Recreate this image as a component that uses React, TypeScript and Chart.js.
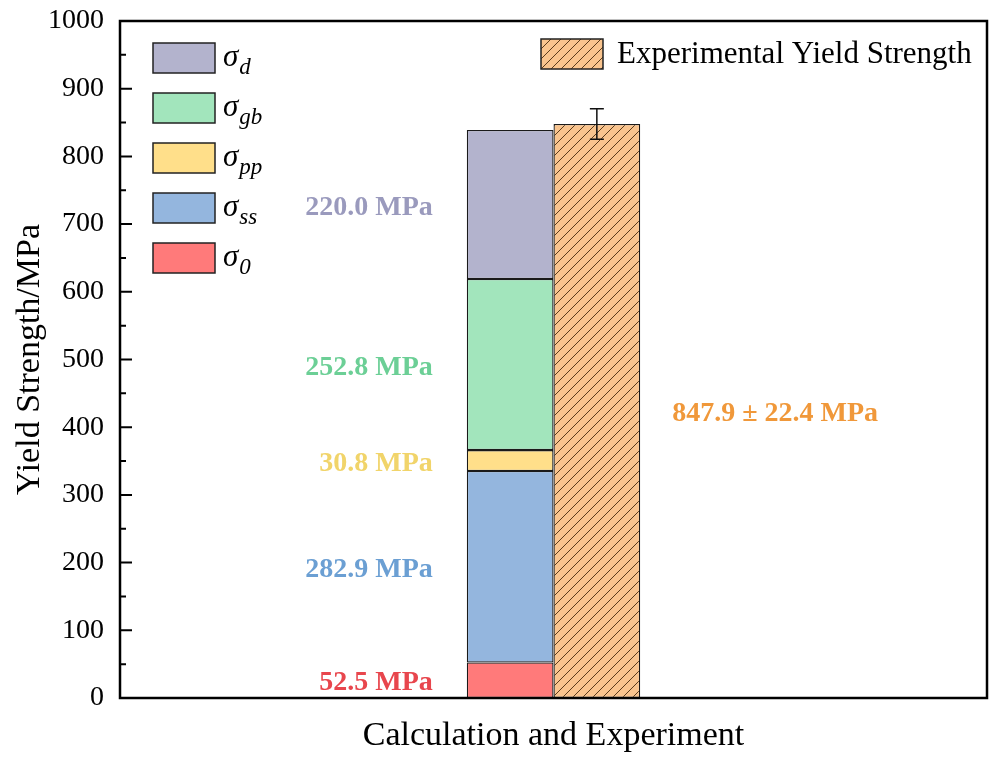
import React, { useEffect, useRef } from 'react';
import { Chart, registerables } from 'chart.js';

Chart.register(...registerables);

const categories = ['Calculation and Experiment'];
const componentSubscripts = ['0', 'ss', 'pp', 'gb', 'd'];
const componentValues = [52.5, 282.9, 30.8, 252.8, 220.0];
const experimentalLabel = 'Experimental Yield Strength';
const experimentalValues = [847.9];
const experimentalErrors = [22.4];
const yTickValues = [0, 100, 200, 300, 400, 500, 600, 700, 800, 900, 1000];
const yMinorTickValues = [50, 150, 250, 350, 450, 550, 650, 750, 850, 950];

const FILL_COLORS = ['#ff7a7a', '#94b6de', '#ffdf8a', '#a2e5bc', '#b3b3cd'];
const TEXT_COLORS = ['#e8464d', '#6b9fd3', '#f1d46a', '#6ccf96', '#9a9abd'];
const EXP_FILL = '#f9c48e';
const EXP_TEXT = '#f0983a';
const SERIF = '"Liberation Serif", "Times New Roman", serif';

function makeHatch(): CanvasPattern | string {
  const s = 10;
  const c = document.createElement('canvas');
  c.width = s;
  c.height = s;
  const g = c.getContext('2d');
  if (!g) return EXP_FILL;
  g.fillStyle = EXP_FILL;
  g.fillRect(0, 0, s, s);
  g.strokeStyle = '#5b3b1c';
  g.lineWidth = 1;
  g.beginPath();
  g.moveTo(0, s);
  g.lineTo(s, 0);
  g.moveTo(-1, 1);
  g.lineTo(1, -1);
  g.moveTo(s - 1, s + 1);
  g.lineTo(s + 1, s - 1);
  g.stroke();
  const p = g.createPattern(c, 'repeat');
  return p || EXP_FILL;
}

const decorPlugin = {
  id: 'decor',
  afterDatasetsDraw(chart: any) {
    const { ctx, chartArea, scales } = chart;
    const y = scales.y;
    ctx.save();

    // value labels for the stacked components
    let cum = 0;
    ctx.font = `bold 28px ${SERIF}`;
    ctx.textBaseline = 'middle';
    componentValues.forEach((v, i) => {
      const bar = chart.getDatasetMeta(i).data[0];
      const left = bar.x - bar.width / 2;
      ctx.fillStyle = TEXT_COLORS[i];
      ctx.textAlign = 'right';
      ctx.fillText(`${v.toFixed(1)} MPa`, left - 34, y.getPixelForValue(cum + v / 2) + 3);
      cum += v;
    });

    // experimental bar: error bar + label
    const expIndex = componentValues.length;
    const expBar = chart.getDatasetMeta(expIndex).data[0];
    const ev = experimentalValues[0];
    const ee = experimentalErrors[0];
    ctx.strokeStyle = '#111';
    ctx.lineWidth = 1.5;
    const yTop = y.getPixelForValue(ev + ee);
    const yBot = y.getPixelForValue(ev - ee);
    ctx.beginPath();
    ctx.moveTo(expBar.x, yTop);
    ctx.lineTo(expBar.x, yBot);
    ctx.moveTo(expBar.x - 7, yTop);
    ctx.lineTo(expBar.x + 7, yTop);
    ctx.moveTo(expBar.x - 7, yBot);
    ctx.lineTo(expBar.x + 7, yBot);
    ctx.stroke();

    ctx.fillStyle = EXP_TEXT;
    ctx.textAlign = 'left';
    ctx.fillText(`${ev.toFixed(1)} ± ${ee.toFixed(1)} MPa`, expBar.x + expBar.width / 2 + 32, y.getPixelForValue(ev / 2) + 3);

    // frame
    ctx.strokeStyle = '#000';
    ctx.lineWidth = 2.5;
    ctx.strokeRect(chartArea.left, chartArea.top, chartArea.right - chartArea.left, chartArea.bottom - chartArea.top);

    // inward ticks on the left axis
    ctx.lineWidth = 2;
    ctx.beginPath();
    yTickValues.forEach((t) => {
      const py = y.getPixelForValue(t);
      ctx.moveTo(chartArea.left, py);
      ctx.lineTo(chartArea.left + 12, py);
    });
    yMinorTickValues.forEach((t) => {
      const py = y.getPixelForValue(t);
      ctx.moveTo(chartArea.left, py);
      ctx.lineTo(chartArea.left + 6, py);
    });
    ctx.stroke();

    // left legend (components, top to bottom reversed)
    const lx = 153;
    const boxW = 62;
    const boxH = 30;
    const firstCenter = 58;
    const gap = 50;
    const order = componentValues.map((_, i) => i).reverse();
    order.forEach((idx, row) => {
      const cy = firstCenter + row * gap;
      ctx.fillStyle = FILL_COLORS[idx];
      ctx.fillRect(lx, cy - boxH / 2, boxW, boxH);
      ctx.strokeStyle = '#222';
      ctx.lineWidth = 1.5;
      ctx.strokeRect(lx, cy - boxH / 2, boxW, boxH);
      ctx.fillStyle = '#000';
      ctx.textAlign = 'left';
      ctx.textBaseline = 'alphabetic';
      ctx.font = `italic 31px ${SERIF}`;
      const sx = lx + boxW + 8;
      ctx.fillText('σ', sx, cy + 8);
      const w = ctx.measureText('σ').width;
      ctx.font = `italic 23px ${SERIF}`;
      ctx.fillText(componentSubscripts[idx], sx + w + 1, cy + 16);
    });

    // right legend (experimental)
    const rx = 541;
    const rcy = 54;
    ctx.fillStyle = chart.data.datasets[expIndex].backgroundColor;
    ctx.fillRect(rx, rcy - boxH / 2, boxW, boxH);
    ctx.strokeStyle = '#222';
    ctx.lineWidth = 1.5;
    ctx.strokeRect(rx, rcy - boxH / 2, boxW, boxH);
    ctx.fillStyle = '#000';
    ctx.font = `31px ${SERIF}`;
    ctx.textBaseline = 'middle';
    ctx.textAlign = 'left';
    ctx.fillText(experimentalLabel, rx + boxW + 14, rcy + 1);

    ctx.restore();
  },
};

export default function App() {
  const ref = useRef<HTMLCanvasElement | null>(null);

  useEffect(() => {
    document.body.style.margin = '0';
    const canvas = ref.current;
    if (!canvas) return;
    const hatch = makeHatch();

    const datasets: any[] = componentValues.map((v, i) => ({
      label: `σ${componentSubscripts[i]}`,
      data: [v],
      backgroundColor: FILL_COLORS[i],
      borderColor: '#1a1a1a',
      borderWidth: 1.3,
      borderSkipped: false,
      stack: 'calc',
    }));
    datasets.push({
      label: experimentalLabel,
      data: experimentalValues,
      backgroundColor: hatch,
      borderColor: '#1a1a1a',
      borderWidth: 1.3,
      borderSkipped: false,
      stack: 'exp',
    });

    const chart = new Chart(canvas, {
      type: 'bar',
      data: { labels: categories, datasets },
      options: {
        animation: false,
        responsive: false,
        maintainAspectRatio: false,
        devicePixelRatio: 1,
        categoryPercentage: 0.2,
        barPercentage: 1.0,
        layout: { padding: { left: 0, top: 21, right: 11, bottom: 0 } },
        plugins: {
          legend: { display: false },
          tooltip: { enabled: false },
        },
        scales: {
          x: {
            stacked: true,
            grid: { display: false, drawTicks: false },
            border: { display: false },
            ticks: { display: false },
            title: {
              display: true,
              text: 'Calculation and Experiment',
              color: '#000',
              font: { family: SERIF, size: 34 },
              padding: { top: 0, bottom: 4 },
            },
            afterFit: (s: any) => { s.height = 62; s.paddingLeft = 0; s.paddingRight = 0; },
          },
          y: {
            stacked: true,
            min: 0,
            max: 1000,
            grid: { display: false, drawTicks: false },
            border: { display: false },
            ticks: {
              stepSize: 100,
              color: '#000',
              padding: 16,
              font: { family: SERIF, size: 28 },
              callback: (v: any) => String(v),
            },
            title: {
              display: true,
              text: 'Yield Strength/MPa',
              color: '#000',
              font: { family: SERIF, size: 34 },
              padding: { top: 10, bottom: 0 },
            },
            afterFit: (s: any) => { s.width = 120; s.paddingTop = 0; s.paddingBottom = 0; },
          },
        },
      },
      plugins: [decorPlugin],
    });
    return () => chart.destroy();
  }, []);

  return (
    <div style={{ position: 'absolute', left: 0, top: 0, width: 998, height: 760 }}>
      <canvas ref={ref} width={998} height={760} style={{ width: 998, height: 760, display: 'block' }} />
    </div>
  );
}
